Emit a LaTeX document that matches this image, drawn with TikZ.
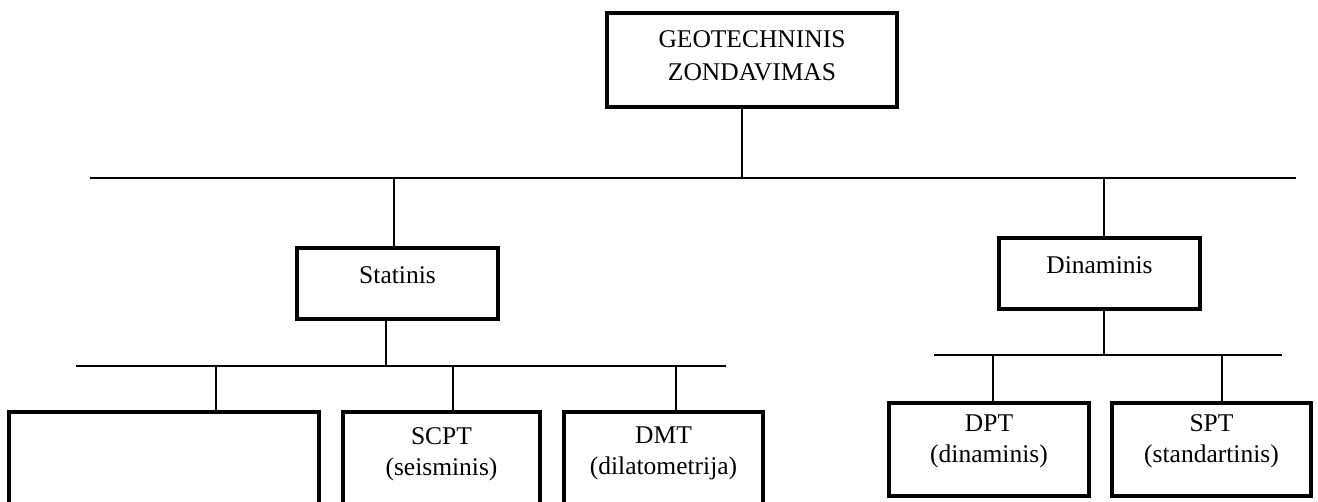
\documentclass[tikz,border=0pt]{standalone}
\usepackage{fontspec}
\setmainfont{Liberation Serif}
\begin{document}
\begin{tikzpicture}[x=1pt,y=-1pt,
  box/.style={draw,line width=3.3pt,inner sep=0pt},
  txt/.style={inner sep=0pt,align=center,anchor=north,font=\fontsize{25.5}{31}\selectfont},
  conn/.style={line width=2.9pt}]
\useasboundingbox (0,0) rectangle (1318,502);
\clip (0,0) rectangle (1318,502);
% boxes
\node[box,minimum width=290pt,minimum height=94pt,
  label={[txt,font=\fontsize{25.5}{33.4}\selectfont,yshift=-19pt]north:{GEOTECHNINIS\\ZONDAVIMAS}}] (root) at (752,60) {};
\node[box,minimum width=201pt,minimum height=71pt,
  label={[txt,yshift=-20pt]north:{Statinis}}] (stat) at (397.5,283.5) {};
\node[box,minimum width=201pt,minimum height=71pt,
  label={[txt,yshift=-20pt]north:{Dinaminis}}] (din) at (1099.5,273.5) {};
\node[box,minimum width=310pt,minimum height=93pt] (b1) at (164,458.5) {};
\node[box,minimum width=197pt,minimum height=93pt,
  label={[txt,yshift=-17pt]north:{SCPT\\(seisminis)}}] (scpt) at (441.5,458.5) {};
\node[box,minimum width=199pt,minimum height=93pt,
  label={[txt,yshift=-16pt]north:{DMT\\(dilatometrija)}}] (dmt) at (663.5,458.5) {};
\node[box,minimum width=200pt,minimum height=93pt,
  label={[txt,yshift=-13pt]north:{DPT\\(dinaminis)}}] (dpt) at (989,449.5) {};
\node[box,minimum width=199pt,minimum height=93pt,
  label={[txt,yshift=-13pt]north:{SPT\\(standartinis)}}] (spt) at (1211.5,449.5) {};
% junction coordinates
\coordinate (h0l) at (90,178);
\coordinate (h0r) at (1296,178);
\coordinate (j0) at (742,178);
\coordinate (s0) at (394,178);
\coordinate (d0) at (1104,178);
\coordinate (s1) at (386,366);
\coordinate (h1l) at (76,366);
\coordinate (h1r) at (726,366);
\coordinate (c1) at (216,366);
\coordinate (c2) at (453,366);
\coordinate (c3) at (676,366);
\coordinate (d1) at (1104,355);
\coordinate (h2l) at (934,355);
\coordinate (h2r) at (1282,355);
\coordinate (e1) at (993,355);
\coordinate (e2) at (1222,355);
% connectors
\draw[conn] (h0l) -- (h0r);
\draw[conn] (root.south -| j0) -- (j0);
\draw[conn] (s0) -- (s0 |- stat.north);
\draw[conn] (d0) -- (d0 |- din.north);
\draw[conn] (h1l) -- (h1r);
\draw[conn] (stat.south -| s1) -- (s1);
\draw[conn] (c1) -- (c1 |- b1.north);
\draw[conn] (c2) -- (c2 |- scpt.north);
\draw[conn] (c3) -- (c3 |- dmt.north);
\draw[conn] (h2l) -- (h2r);
\draw[conn] (din.south -| d1) -- (d1);
\draw[conn] (e1) -- (e1 |- dpt.north);
\draw[conn] (e2) -- (e2 |- spt.north);
\end{tikzpicture}
\end{document}
